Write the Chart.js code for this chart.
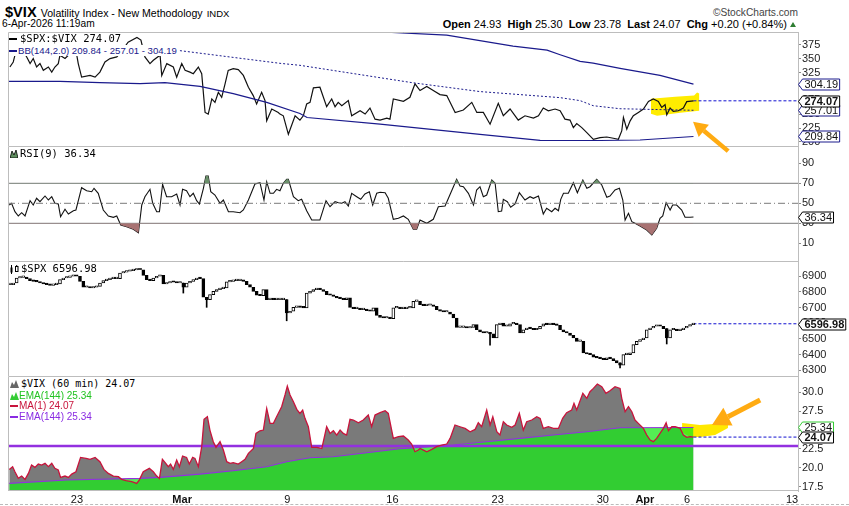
<!DOCTYPE html>
<html><head><meta charset="utf-8">
<script src="https://cdn.jsdelivr.net/npm/chart.js@4.4.1/dist/chart.umd.min.js"></script>
<style>
html,body{margin:0;padding:0;background:#fff;}
#wrap{position:relative;width:849px;height:506px;overflow:hidden;font-family:'Liberation Sans',Arial,sans-serif;color:#000;}
canvas{position:absolute;left:0;}
.t{position:absolute;white-space:nowrap;line-height:1;}
.lg{position:absolute;white-space:nowrap;background:#fff;line-height:11px;height:11px;z-index:10;padding-right:1px;}
.mono{font-family:'DejaVu Sans Mono',monospace;}
.ic{display:inline-block;vertical-align:middle;margin-right:3px;}
</style></head><body><div id="wrap">
<div class="t" style="left:5px;top:5px;font-size:14.6px;line-height:14px;height:14px;"><span style="font-weight:bold;">$VIX</span> <span style="font-size:10.6px;">Volatility Index - New Methodology</span> <span style="font-size:9.5px;">INDX</span></div>
<div class="t" style="left:2px;top:19px;font-size:10.2px;line-height:10px;height:10px;">6-Apr-2026 11:19am</div>
<div class="t" style="right:51px;top:7.5px;font-size:10.2px;color:#444;">&copy;StockCharts.com</div>
<div class="t" style="right:53px;top:19px;font-size:11px;"><b>Open</b> 24.93&nbsp; <b>High</b> 25.30&nbsp; <b>Low</b> 23.78&nbsp; <b>Last</b> 24.07&nbsp; <b>Chg</b> +0.20 (+0.84%) <span style="display:inline-block;width:0;height:0;border-left:3.5px solid transparent;border-right:3.5px solid transparent;border-bottom:5px solid #2e7d32;vertical-align:1px;"></span></div>

<canvas id="c1" width="849" height="128" style="top:32px;z-index:3;"></canvas>
<canvas id="c2" width="849" height="115" style="top:146px;z-index:2;"></canvas>
<canvas id="c3" width="849" height="115" style="top:261px;z-index:1;"></canvas>
<canvas id="c4" width="849" height="130" style="top:376px;z-index:1;"></canvas>

<div class="lg mono" style="left:9px;top:33px;font-size:10.5px;"><span class="ic" style="background:#000;width:8px;height:2px;"></span>$SPX:$VIX 274.07</div>
<div class="lg" style="left:9px;top:45px;font-size:9.6px;color:#1a1a8c;"><span class="ic" style="background:#1a1a8c;width:8px;height:2px;margin-right:1px;"></span>BB(144,2.0) 209.84 - 257.01 - 304.19</div>
<div class="lg mono" style="left:10px;top:148px;font-size:10.5px;"><svg class="ic" width="8" height="8" style="margin-right:2px"><polygon points="0,8 2,1 4,5 6,0 8,8" fill="#5f8f5f" stroke="#000" stroke-width="0.8"/></svg>RSI(9) 36.34</div>
<div class="lg mono" style="left:10px;top:263px;font-size:10.5px;"><svg class="ic" width="9" height="9" style="margin-right:2px"><rect x="0.5" y="2.5" width="2" height="5" fill="#000"/><line x1="1.5" y1="0" x2="1.5" y2="9" stroke="#000"/><rect x="5.5" y="1.5" width="2.5" height="5" fill="#fff" stroke="#000" stroke-width="1"/><line x1="6.7" y1="0" x2="6.7" y2="1.5" stroke="#000"/></svg>$SPX 6596.98</div>
<div class="lg mono" style="left:10px;top:378px;font-size:10px;"><svg class="ic" width="9" height="8" style="margin-right:2px"><polygon points="0,8 2,2 4,5 6,0 9,8" fill="#666"/></svg>$VIX (60 min) 24.07</div>
<div class="lg" style="left:10px;top:389.5px;font-size:10px;color:#22c322;"><svg class="ic" width="9" height="8" style="margin-right:0"><polygon points="0,8 2,2 4,5 6,0 9,8" fill="#33cc33"/></svg>EMA(144) 25.34</div>
<div class="lg" style="left:10px;top:400px;font-size:10px;color:#c8143c;"><span class="ic" style="background:#c8143c;width:8px;height:2px;margin-right:1px;"></span>MA(1) 24.07</div>
<div class="lg" style="left:10px;top:410.5px;font-size:10px;color:#8a2be2;"><span class="ic" style="background:#8a2be2;width:8px;height:2px;margin-right:1px;"></span>EMA(144) 25.34</div>
<div style="position:absolute;left:0;top:504px;width:849px;border-top:1px dashed #bbb;"></div>
</div>
<script>
// ---------- DATA ----------
const X_MIN = -3.28, X_MAX = 34.28;           // trading days, 0 = Mon 23-Feb
const xTickPos = [0, 5, 10, 15, 20, 25, 27, 29, 34];
const xTickLabels = ['23', 'Mar', '9', '16', '23', '30', 'Apr', '6', '13'];

// $SPX:$VIX ratio
const ratioT = [-3.19,-3.03,-2.95,-2.66,-2.39,-2.23,-2.08,-1.92,-1.76,-1.60,-1.36,-1.20,-1.05,-0.89,-0.81,-0.57,-0.41,-0.25,-0.01,0.06,0.22,0.62,0.86,1.09,1.33,1.57,1.89,2.04,2.43,2.85,3.04,3.23,3.47,3.63,3.95,4.03,4.27,4.58,4.74,4.98,5.14,5.37,5.53,5.77,5.93,6.09,6.24,6.41,6.56,6.72,6.88,7.04,7.19,7.43,7.67,7.91,8.15,8.38,8.54,8.78,8.94,9.02,9.26,9.57,9.65,9.81,10.05,10.37,10.60,10.76,10.92,11.08,11.24,11.55,11.87,12.11,12.27,12.42,12.59,12.90,13.06,13.46,13.70,13.93,14.17,14.41,14.73,14.88,15.04,15.52,15.83,16.07,16.31,16.63,16.94,17.26,17.58,17.98,18.37,18.77,19.01,19.32,19.64,20.03,20.27,20.59,20.98,21.30,21.70,21.94,22.17,22.41,22.73,22.97,23.20,23.44,23.60,23.76,24.00,24.24,24.55,24.87,25.19,25.50,25.74,25.90,25.98,26.14,26.30,26.45,26.69,26.93,27.17,27.40,27.64,27.80,27.96,28.04,28.20,28.35,28.59,28.83,28.99,29.31];
const ratioV = [334.9,344,356.2,368.9,353.1,341.1,350.2,334.9,341.1,328.9,334.9,325.8,334.9,341.1,356.2,350.2,356.2,359.3,356.2,341.1,316.7,319.8,316.7,325.8,344,350.2,353.1,359.3,379.8,388,383.5,353.1,341.1,347.1,356.2,319.8,341.1,334.9,316.7,341.1,328.9,325.8,322.9,334.9,322.9,253.1,250.2,277.5,271.3,289.5,280.4,304.7,328.9,332,330.2,319.8,298.6,283.5,268.4,289.5,274.4,238,259.3,253.1,250.2,247.1,213.8,247.1,239.3,247.1,268.4,271.3,297.5,298.6,263.5,277.5,263.5,271.3,265.3,274.4,247.1,256.2,250.2,261.1,241.1,239.3,242.9,241.1,277.5,273.1,280.4,304.7,292.6,299.8,292.6,285.3,283.5,253.1,257.5,271.3,253.1,253.1,232,269.5,247.1,259.3,239.3,247.1,242.9,247.1,261.1,256.2,259.3,256.2,241.1,239.3,225.8,233.1,225.8,216.7,204.7,207.7,208.9,206.6,204.7,219.8,244,222.9,238,247.1,253.1,259.3,273.1,277.5,273.1,262.2,267.1,248.9,261.1,254.9,256.2,261.1,272.6,274.07];
// Bollinger bands (144,2.0)
const bbUpT = [-3.28,5.85,10.60,14.25,17.58,20.73,22.35,22.97,23.92,24.54,25.82,27.72,29.31];
const bbUpV = [430,418,408,398.5,392.5,372.5,365.3,357,345,342,332.6,319.8,304.19];
const bbMidT = [-3.28,4.90,9.65,10.60,15.98,19.16,22.97,23.92,24.54,25.82,29.31];
const bbMidV = [372.5,364.4,341.6,338,306.5,290.7,279.8,274.4,265.3,259.8,257.01];
const bbLowT = [-3.28,-0.81,1.09,3.00,4.18,5.85,7.43,9.02,10.60,10.94,14.41,19.16,22.02,24.87,26.77,29.31];
const bbLowV = [309,309,307,305,307,300,287,271.3,251.3,244,232,213.8,203,202.6,203.5,209.84];

// RSI(9)
const rsiT = [-3.22,-3.11,-2.95,-2.79,-2.63,-2.47,-2.23,-2.08,-1.92,-1.76,-1.52,-1.36,-1.20,-1.05,-0.89,-0.78,-0.57,-0.41,-0.17,-0.05,0.22,0.46,0.70,0.81,1.01,1.25,1.49,1.73,1.89,2.08,2.36,2.68,2.92,3.08,3.23,3.47,3.60,3.79,3.92,4.07,4.26,4.50,4.74,4.90,5.02,5.21,5.37,5.53,5.69,5.82,6.01,6.13,6.24,6.36,6.56,6.80,6.96,7.20,7.43,7.75,7.91,8.15,8.46,8.70,8.89,9.02,9.18,9.34,9.49,9.65,9.81,9.97,10.05,10.29,10.52,10.68,10.92,11.16,11.55,11.84,12.03,12.27,12.43,12.59,12.74,12.90,13.06,13.30,13.49,13.69,13.90,14.06,14.25,14.41,14.65,14.80,15.04,15.28,15.52,15.75,15.99,16.15,16.31,16.63,16.94,17.18,17.50,17.66,18.05,18.21,18.37,18.61,18.85,19.00,19.16,19.32,19.48,19.72,19.88,20.03,20.19,20.27,20.46,20.62,20.83,21.03,21.30,21.54,21.70,21.94,22.17,22.33,22.57,22.73,22.89,23.00,23.13,23.36,23.60,23.79,24.05,24.24,24.39,24.71,24.95,25.19,25.34,25.58,25.79,25.95,26.06,26.22,26.38,26.53,26.77,27.09,27.33,27.56,27.72,27.85,28.01,28.20,28.32,28.51,28.75,28.91,29.15,29.31];
const rsiV = [48.3,50,41.6,37.3,40.6,37.3,52.6,48.3,55,51.6,57.3,53.3,56.6,50,49.3,36.6,44,39.3,42.6,43.3,65.6,62.6,61.6,65,60,43.3,37.3,36,37.3,28.3,26.6,24,20.6,48.3,56.6,64,50,41.6,41.6,69,56.6,56.6,59.3,48.3,64,62.6,56.6,60,52.6,49.3,65,77.3,77.3,61.6,58.3,50,53.3,41.6,41.6,40.6,43.3,53.3,69.3,70.6,53.3,71.6,60,60,64,62.6,70,74,74,56.6,52.6,54,42.6,33.3,33.3,52.6,46.6,51.6,50.6,50,51.6,47.3,60,56.6,54,59.3,61.6,48.3,60,61,60.6,55,34,35,37.3,34,24,24,33.3,30,34,46.6,47.3,55,74,67.3,66.6,60,48.3,63.3,66.6,56.6,58.3,73.3,70,41.6,42.3,54,51.6,46,49.3,60.6,53.3,56.6,55,57.3,39.3,45,41.6,45,42.6,54,60,60,70.6,60.6,73.3,65,66.6,74,68.3,56,57.3,63.3,65,53.3,33.3,40,31.6,30,27.3,23.3,18.3,25,35,37.3,50.6,43.3,48.3,48.3,43.3,36,36,36.34];
const rsiLevels = [70, 50, 30];

// $SPX hourly closes (one per bar)
const spxStartT = -3.186, spxStepT = 0.1585;
const spxClose = [6847,6857,6889,6893,6893,6885,6872,6868,6864,6857,6851,6847,6842,6847,6851,6879,6889,6893,6900,6906,6900,6868,6830,6830,6825,6830,6836,6857,6872,6879,6885,6885,6885,6921,6927,6932,6936,6940,6942,6942,6906,6879,6872,6889,6900,6906,6851,6857,6864,6862,6857,6857,6830,6857,6868,6879,6889,6885,6766,6751,6783,6804,6815,6821,6825,6864,6868,6872,6872,6876,6868,6847,6830,6804,6779,6776,6815,6751,6757,6751,6751,6751,6751,6666,6677,6702,6708,6702,6698,6793,6804,6815,6821,6815,6804,6783,6779,6772,6762,6757,6751,6762,6702,6694,6694,6687,6687,6681,6677,6698,6651,6638,6634,6638,6630,6698,6702,6694,6694,6698,6698,6740,6740,6719,6713,6715,6715,6708,6687,6677,6672,6672,6659,6634,6574,6574,6574,6570,6574,6591,6559,6545,6538,6538,6532,6506,6591,6602,6581,6581,6596,6602,6591,6538,6559,6570,6566,6559,6564,6581,6596,6591,6596,6591,6587,6559,6545,6538,6523,6506,6485,6485,6411,6404,6400,6383,6379,6374,6368,6379,6374,6362,6347,6332,6400,6400,6411,6464,6485,6496,6506,6559,6570,6581,6587,6581,6566,6506,6559,6559,6553,6559,6570,6581,6591,6596.98];
const spxWickIdx = [52, 59, 83, 144, 183, 197];
const spxWickLow = [6793, 6702, 6616, 6460, 6315, 6468];

// $VIX 60-min
const vixT = [-3.22,-3.06,-2.95,-2.79,-2.63,-2.47,-2.31,-2.16,-2.00,-1.84,-1.68,-1.52,-1.36,-1.20,-1.05,-0.89,-0.78,-0.57,-0.41,-0.25,-0.05,0.17,0.43,0.62,0.86,1.09,1.28,1.49,1.73,1.97,2.12,2.33,2.60,2.84,2.96,3.15,3.44,3.63,3.79,3.92,4.06,4.22,4.34,4.45,4.58,4.74,4.87,5.02,5.21,5.34,5.50,5.61,5.77,5.93,6.04,6.20,6.32,6.48,6.61,6.80,6.96,7.12,7.28,7.43,7.67,7.83,7.99,8.15,8.39,8.51,8.70,8.86,9.02,9.18,9.34,9.49,9.73,9.89,10.00,10.13,10.29,10.45,10.60,10.73,10.84,11.00,11.16,11.40,11.64,11.87,12.03,12.19,12.35,12.51,12.66,12.82,12.98,13.14,13.38,13.61,13.85,14.01,14.17,14.41,14.65,14.80,15.04,15.28,15.52,15.75,15.91,16.07,16.23,16.31,16.47,16.63,16.87,17.10,17.34,17.58,17.74,17.97,18.21,18.45,18.69,18.93,19.08,19.24,19.48,19.64,19.77,19.96,20.11,20.27,20.43,20.67,20.83,21.03,21.22,21.38,21.62,21.86,22.02,22.17,22.41,22.65,22.89,23.09,23.28,23.52,23.63,23.76,24.05,24.24,24.39,24.55,24.74,24.95,25.15,25.34,25.58,25.82,25.90,26.06,26.22,26.38,26.53,26.69,26.93,27.09,27.25,27.40,27.56,27.72,27.88,28.01,28.12,28.28,28.44,28.68,28.83,28.99,29.15,29.31];
const vixV = [19.79,20.15,19.48,18.6,18.91,18.47,19.26,20.37,20.06,20.5,20.37,20.59,20.15,20.59,19.93,19.71,18.73,18.91,18.73,19.17,19.48,21.38,21.25,21.12,21.38,20.81,19.79,19.26,18.91,18.82,18.47,18.29,18.16,17.94,18.38,19.48,19.93,19.48,18.91,18.6,21.12,20.59,20.15,20.5,19.79,21.03,20.15,21.56,21.38,20.5,21.38,21.25,20.15,22.8,26.42,26.77,25.0,23.46,22.71,23.46,22.35,20.81,20.59,20.68,20.5,20.81,21.12,21.91,22.57,24.56,24.91,25.0,27.87,25.89,25.89,26.77,28.09,29.64,30.83,29.64,28.76,27.74,27.21,27.65,26.55,25.44,22.71,22.71,22.57,25.44,24.56,24.91,24.34,25.0,24.56,24.34,26.42,26.33,25.97,26.33,26.99,25.44,26.99,27.3,27.56,27.21,23.9,24.12,24.21,23.68,23.15,22.13,22.35,22.57,22.35,22.13,22.44,22.8,23.02,23.15,23.9,25.67,25.44,25.22,24.78,25.09,25.97,25.44,27.65,25.67,26.77,24.78,24.34,26.11,25.67,25.36,25.67,27.21,25.0,26.11,26.33,26.77,26.55,25.22,25.44,25.22,25.22,26.55,27.3,27.65,28.53,27.65,29.86,29.2,30.08,30.52,31.1,30.74,29.86,30.21,30.74,30.52,29.2,27.43,28.09,27.43,26.33,25.89,25.22,24.34,23.68,23.46,23.9,24.56,25.22,25.97,24.91,25.44,25.44,25.22,24.34,24.03,24.12,24.07];
const emaT = [-3.22,-0.49,3.00,3.95,5.85,7.43,9.02,9.97,11.08,12.19,13.78,15.36,16.31,17.90,19.48,21.06,22.65,24.24,25.82,29.31];
const emaV = [17.94,18.38,18.6,18.73,19.17,19.62,20.15,20.81,21.34,21.47,22.0,22.53,22.71,23.02,23.46,23.9,24.34,24.78,25.31,25.34];
const vixHLine = 22.88;

// ---------- HELPERS ----------
Chart.defaults.font.family = "'Liberation Sans', Arial, sans-serif";
const NAVY = '#1a1a8c', PURPLE = '#9330e0', CRIMSON = '#c8143c';
const pts = (T, V) => T.map((t, i) => ({x: t, y: V[i]}));
const seg = (v, t0) => [{x: t0 === undefined ? X_MIN : t0, y: v}, {x: X_MAX, y: v}];
function line(data, color, width, extra) {
  return Object.assign({type: 'line', data, borderColor: color, borderWidth: width, pointRadius: 0, fill: false, tension: 0}, extra || {});
}
function yAxis(min, max, ticks, fmt) {
  return {
    type: 'linear', position: 'right', min, max,
    afterBuildTicks: s => { s.ticks = ticks.map(v => ({value: v})); },
    afterFit: s => { s.width = 51; s.paddingTop = 0; s.paddingBottom = 0; },
    grid: {drawOnChartArea: false, drawTicks: true, tickLength: 3, color: '#8a8a8a'},
    border: {display: true, color: '#bdbdbd'},
    ticks: {padding: 1, color: '#222', autoSkip: false, font: {size: 11}, callback: v => fmt ? fmt(v) : String(v)}
  };
}
function xAxis(show) {
  return {
    type: 'linear', min: X_MIN, max: X_MAX, offset: false, display: show,
    afterBuildTicks: s => { s.ticks = xTickPos.map(v => ({value: v})); },
    afterFit: s => { if (show) s.height = 15; s.paddingLeft = 0; s.paddingRight = 0; },
    grid: {display: false, drawTicks: false}, border: {display: false},
    ticks: {padding: 2, maxRotation: 0, autoSkip: false, color: '#111',
      font: ctx => ({size: 11, weight: isNaN(Number(xTickLabels[ctx.index])) ? 'bold' : 'normal'}),
      callback: (v, i) => xTickLabels[i]}
  };
}
function drawArrow(ctx, x1, y1, x2, y2, w, head, hw, color) {
  const a = Math.atan2(y2 - y1, x2 - x1);
  const bx = x2 - Math.cos(a) * head, by = y2 - Math.sin(a) * head;
  ctx.strokeStyle = color; ctx.lineWidth = w; ctx.beginPath(); ctx.moveTo(x1, y1); ctx.lineTo(bx, by); ctx.stroke();
  ctx.fillStyle = color; ctx.beginPath(); ctx.moveTo(x2, y2);
  ctx.lineTo(bx + Math.sin(a) * hw, by - Math.cos(a) * hw); ctx.lineTo(bx - Math.sin(a) * hw, by + Math.cos(a) * hw);
  ctx.closePath(); ctx.fill();
}
const decor = {
  id: 'decor',
  beforeDatasetsDraw(chart, args, o) {
    const {ctx, scales: {x, y}} = chart;
    (o.polys || []).forEach(p => {
      ctx.save(); ctx.beginPath();
      p.t.forEach((t, i) => { const px = x.getPixelForValue(t), py = y.getPixelForValue(p.v[i]); i ? ctx.lineTo(px, py) : ctx.moveTo(px, py); });
      ctx.closePath(); ctx.fillStyle = p.color; ctx.fill(); ctx.restore();
    });
  },
  afterDraw(chart, args, o) {
    const {ctx, chartArea: a, scales: {x, y}} = chart;
    ctx.save();
    ctx.strokeStyle = '#bdbdbd'; ctx.lineWidth = 1; ctx.beginPath();
    ctx.moveTo(a.left + 0.5, a.bottom); ctx.lineTo(a.left + 0.5, a.top + 0.5); ctx.lineTo(a.right, a.top + 0.5);
    if (o.bottom) { ctx.moveTo(a.left, a.bottom - 0.5); ctx.lineTo(a.right, a.bottom - 0.5); }
    ctx.stroke();
    (o.arrows || []).forEach(r => drawArrow(ctx, x.getPixelForValue(r.t[0]), y.getPixelForValue(r.v[0]),
      x.getPixelForValue(r.t[1]), y.getPixelForValue(r.v[1]), r.w, r.head, r.hw, '#ffab12'));
    (o.boxes || []).forEach(b => {
      ctx.font = (b.bold ? 'bold ' : '') + "11px 'Liberation Sans', Arial";
      const tw = ctx.measureText(b.text).width;
      const yy = Math.round(y.getPixelForValue(b.v)) + 0.5, x0 = a.right + 0.5, bx = x0 + 4, h = 5.5;
      ctx.beginPath(); ctx.moveTo(x0, yy); ctx.lineTo(bx, yy - h); ctx.lineTo(bx + tw + 3.5, yy - h);
      ctx.lineTo(bx + tw + 3.5, yy + h); ctx.lineTo(bx, yy + h); ctx.closePath();
      ctx.fillStyle = '#fff'; ctx.fill(); ctx.strokeStyle = b.c; ctx.lineWidth = 1; ctx.stroke();
      ctx.fillStyle = '#111'; ctx.textBaseline = 'middle'; ctx.textAlign = 'left'; ctx.fillText(b.text, bx + 2, yy + 0.5);
    });
    ctx.restore();
  }
};
function mk(id, type, datasets, yopt, xshow, d, padBottom) {
  return new Chart(document.getElementById(id), {
    type, data: {datasets},
    options: {
      responsive: false, animation: false, events: [],
      layout: {padding: {left: 8, right: 0, top: 0, bottom: padBottom || 0}},
      scales: {x: xAxis(xshow), y: yopt},
      plugins: {legend: {display: false}, tooltip: {enabled: false}, decor: d}
    },
    plugins: [decor]
  });
}
const lastT = ratioT[ratioT.length - 1];

// ---------- PANEL 1: $SPX:$VIX + BB ----------
mk('c1', 'line', [
  line(pts(bbUpT, bbUpV), NAVY, 1.2),
  line(pts(bbMidT, bbMidV), NAVY, 1, {borderDash: [2, 2]}),
  line(pts(bbLowT, bbLowV), NAVY, 1.2),
  line(pts(ratioT, ratioV), '#111', 1.2),
  line(seg(ratioV[ratioV.length - 1], lastT), '#1010d0', 1, {borderDash: [3, 2]})
], yAxis(192.7, 398, [375, 350, 325, 300, 275, 250, 225, 200]), false, {
  polys: [{color: '#ffec00', t: [27.29, 28.44, 29.34, 29.48, 29.58, 29.58, 28.68, 27.58, 27.29], v: [278, 281.6, 283.5, 288.9, 287.1, 256.2, 252.6, 247.1, 250.7]}],
  arrows: [{t: [30.96, 29.29], v: [183.5, 236.2], w: 4.5, head: 14, hw: 8}],
  boxes: [{v: 304.19, text: '304.19', c: NAVY}, {v: 257.01, text: '257.01', c: NAVY}, {v: 209.84, text: '209.84', c: NAVY}, {v: 274.07, text: '274.07', c: '#000', bold: true}]
}, 14);

// ---------- PANEL 2: RSI ----------
const rsiPts = pts(rsiT, rsiV);
mk('c2', 'line', [
  line(rsiPts, 'rgba(0,0,0,0)', 1, {fill: {target: {value: 70}, above: '#6b916b', below: 'rgba(0,0,0,0)'}}),
  line(rsiPts, 'rgba(0,0,0,0)', 1, {fill: {target: {value: 30}, above: 'rgba(0,0,0,0)', below: '#a87272'}}),
  line(seg(rsiLevels[0]), '#7a7a7a', 1),
  line(seg(rsiLevels[1]), '#7a7a7a', 1, {borderDash: [7, 3, 1, 3]}),
  line(seg(rsiLevels[2]), '#7a7a7a', 1),
  line(rsiPts, '#111', 1.1)
], yAxis(-7.7, 107.3, [90, 70, 50, 30, 10]), false, {
  boxes: [{v: 36.34, text: '36.34', c: '#000'}]
});

// ---------- PANEL 3: $SPX candles ----------
const spxT = spxClose.map((c, i) => spxStartT + i * spxStepT);
const spxOpen = spxClose.map((c, i) => i ? spxClose[i - 1] : c);
const bodies = spxClose.map((c, i) => ({x: spxT[i], y: [spxOpen[i], c]}));
const bodyFill = spxClose.map((c, i) => c >= spxOpen[i] ? '#fff' : '#000');
const wicks = spxWickIdx.map((k, j) => ({x: spxT[k], y: [spxWickLow[j], Math.max(spxOpen[k], spxClose[k])]}));
mk('c3', 'bar', [
  {type: 'bar', data: wicks, backgroundColor: '#000', barThickness: 1, grouped: false, borderWidth: 0},
  {type: 'bar', data: bodies, backgroundColor: bodyFill, borderColor: '#000', borderWidth: 1, borderSkipped: false,
    barThickness: 3, grouped: false, minBarLength: 1.5},
  line(seg(spxClose[spxClose.length - 1], spxT[spxT.length - 1]), '#1010d0', 1, {borderDash: [3, 2]})
], yAxis(6263.6, 6997.6, [6900, 6800, 6700, 6600, 6500, 6400, 6300]), false, {
  boxes: [{v: 6596.98, text: '6596.98', c: '#000', bold: true}]
});

// ---------- PANEL 4: $VIX 60-min ----------
const vixPts = pts(vixT, vixV), emaPts = pts(emaT, emaV);
mk('c4', 'line', [
  line(vixPts, 'rgba(0,0,0,0)', 1, {fill: 'start', backgroundColor: '#7a7a7a', order: 10}),
  line(emaPts, 'rgba(0,0,0,0)', 1, {fill: 'start', backgroundColor: 'rgba(27,233,27,0.75)', order: 9}),
  line(seg(vixHLine), PURPLE, 2.5, {order: 4}),
  line(emaPts, PURPLE, 1.1, {order: 3}),
  line(vixPts, CRIMSON, 1.3, {order: 2}),
  line(seg(vixV[vixV.length - 1], vixT[vixT.length - 1]), '#1010d0', 1, {borderDash: [3, 2], order: 1})
], yAxis(16.93, 32.16, [30, 27.5, 25, 22.5, 20, 17.5], v => v.toFixed(1)), true, {
  bottom: true,
  polys: [{color: '#ffe800', t: [28.77, 29.62, 30.95, 30.95, 30.34, 29.62, 29.15, 28.77], v: [25.94, 25.67, 25.94, 25.27, 24.35, 24.08, 24.08, 24.74]}],
  arrows: [{t: [32.48, 30.19], v: [28.98, 25.67], w: 5, head: 18, hw: 10}],
  boxes: [{v: 25.34, text: '25.34', c: '#33cc33'}, {v: 24.07, text: '24.07', c: '#000', bold: true}]
});
</script>
</body></html>
